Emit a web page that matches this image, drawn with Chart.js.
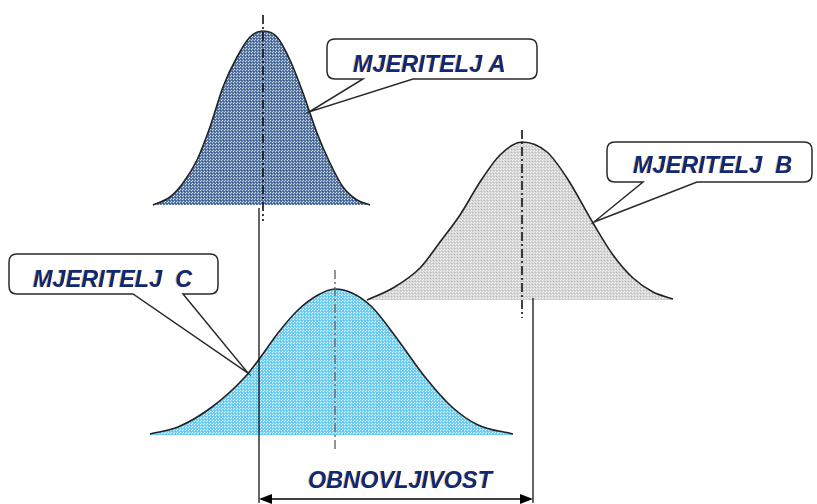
<html>
<head>
<meta charset="utf-8">
<title>Obnovljivost</title>
<script src="https://cdn.jsdelivr.net/npm/chart.js"></script>
<style>
  body { margin: 0; background: #fff; }
  #wrap { width: 817px; height: 504px; }
</style>
</head>
<body>
<div id="wrap"><canvas id="graph"></canvas></div>
<script>
// curve outlines (x, y in diagram units, y grows downwards)
const curveAX = [153, 170, 183, 197, 210, 223, 237, 250, 263, 277, 290, 303, 317, 330, 343, 357, 370]
const curveAY = [205, 197, 183, 160, 127, 87, 57, 37, 31, 37, 60, 93, 133, 163, 187, 200, 205]
const curveBX = [367, 393, 420, 440, 460, 480, 500, 522, 547, 567, 593, 613, 633, 653, 673]
const curveBY = [300, 288, 268, 242, 215, 182, 155, 142, 152, 178, 223, 255, 278, 292, 299]
const curveCX = [150, 178, 212, 245, 260, 278, 298, 318, 335, 352, 372, 398, 425, 452, 478, 513]
const curveCY = [434, 427, 407, 377, 358, 333, 310, 295, 289, 293, 307, 340, 377, 407, 425, 434]
const baseA = 205, baseB = 300, baseC = 435

const labels = ["MJERITELJ A", "MJERITELJ  B", "MJERITELJ  C"]
const spanLabel = "OBNOVLJIVOST"
const spanFrom = 259, spanTo = 533

// layout of callouts and dimension line
const callouts = [
    { box: [327, 39, 537, 79], base: [363, 413], tip: [309, 112], text: [353, 72] },
    { box: [607, 142, 812, 182], base: [643, 697], tip: [594, 222], text: [633, 173] },
    { box: [9, 254, 218, 294], base: [133, 183], tip: [248, 373], text: [33, 287] }
]
const spanY = 499
const spanText = [308, 488]

function pts(xs, ys) { return xs.map((x, i) => ({ x: x, y: ys[i] })) }
function peakX(xs, ys) { return xs[ys.indexOf(Math.min(...ys))] }

function makePattern(base, light, dark) {
    var c = document.createElement("canvas")
    c.width = 3; c.height = 3
    var g = c.getContext("2d")
    g.fillStyle = base; g.fillRect(0, 0, 3, 3)
    g.fillStyle = light; g.fillRect(0, 0, 1, 1); g.fillRect(2, 1, 1, 1)
    g.fillStyle = dark; g.fillRect(1, 2, 1, 1)
    return g.createPattern(c, "repeat")
}

const fillA = makePattern("#5879a5", "#d3dde9", "#3a5a88")
const fillB = makePattern("#d4d4d4", "#f2f2f2", "#bdbdbd")
const fillC = makePattern("#72d1f4", "#dff5fd", "#5cc4ec")

const meanA = peakX(curveAX, curveAY), meanB = peakX(curveBX, curveBY), meanC = peakX(curveCX, curveCY)

function vline(x, y1, y2, color, width, dash, order) {
    return {
        data: [{ x: x, y: y1 }, { x: x, y: y2 }],
        showLine: true, pointRadius: 0, borderColor: color, borderWidth: width,
        borderDash: dash, fill: false, order: order
    }
}

const calloutPlugin = {
    id: "callouts",
    afterDatasetsDraw(chart) {
        const ctx = chart.ctx
        const sx = chart.scales.x, sy = chart.scales.y
        const X = v => sx.getPixelForValue(v), Y = v => sy.getPixelForValue(v)
        ctx.save()
        // arrowheads of the dimension line
        ctx.fillStyle = "#000"
        ;[[spanFrom, 1], [spanTo, -1]].forEach(([x, d]) => {
            ctx.beginPath()
            ctx.moveTo(X(x), Y(spanY))
            ctx.lineTo(X(x) + d * 13, Y(spanY) - 5)
            ctx.lineTo(X(x) + d * 13, Y(spanY) + 5)
            ctx.closePath()
            ctx.fill()
        })
        // callout boxes
        callouts.forEach((c, i) => {
            const [x1, y1, x2, y2] = c.box, r = 8
            ctx.beginPath()
            ctx.moveTo(X(x1 + r), Y(y1))
            ctx.lineTo(X(x2 - r), Y(y1))
            ctx.quadraticCurveTo(X(x2), Y(y1), X(x2), Y(y1 + r))
            ctx.lineTo(X(x2), Y(y2 - r))
            ctx.quadraticCurveTo(X(x2), Y(y2), X(x2 - r), Y(y2))
            ctx.lineTo(X(c.base[1]), Y(y2))
            ctx.lineTo(X(c.tip[0]), Y(c.tip[1]))
            ctx.lineTo(X(c.base[0]), Y(y2))
            ctx.lineTo(X(x1 + r), Y(y2))
            ctx.quadraticCurveTo(X(x1), Y(y2), X(x1), Y(y2 - r))
            ctx.lineTo(X(x1), Y(y1 + r))
            ctx.quadraticCurveTo(X(x1), Y(y1), X(x1 + r), Y(y1))
            ctx.closePath()
            ctx.fillStyle = "#fff"
            ctx.fill()
            ctx.lineWidth = 1.5
            ctx.strokeStyle = "#2a2a2a"
            ctx.stroke()
            drawLabel(ctx, labels[i], X(c.text[0]), Y(c.text[1]))
        })
        drawLabel(ctx, spanLabel, X(spanText[0]), Y(spanText[1]))
        ctx.restore()
    }
}

function drawLabel(ctx, text, x, y) {
    ctx.save()
    ctx.font = "italic bold 23.5px 'Liberation Sans', Arial, sans-serif"
    ctx.textAlign = "left"
    ctx.textBaseline = "alphabetic"
    ctx.shadowColor = "rgba(235,150,70,0.7)"
    ctx.shadowOffsetX = -1
    ctx.shadowOffsetY = 0
    ctx.fillStyle = "#0c2a78"
    ctx.fillText(text, x, y)
    ctx.restore()
}

const graphConfig = {
    type: "scatter",
    data: {
        datasets: [
            {
                label: "Mjeritelj B", data: pts(curveBX, curveBY), showLine: true, pointRadius: 0,
                borderColor: "#222", borderWidth: 1.6, cubicInterpolationMode: "monotone",
                backgroundColor: fillB, fill: { value: baseB }, order: 10
            },
            {
                label: "Mjeritelj C", data: pts(curveCX, curveCY), showLine: true, pointRadius: 0,
                borderColor: "#222", borderWidth: 1.6, cubicInterpolationMode: "monotone",
                backgroundColor: fillC, fill: { value: baseC }, order: 9
            },
            {
                label: "Mjeritelj A", data: pts(curveAX, curveAY), showLine: true, pointRadius: 0,
                borderColor: "#222", borderWidth: 1.6, cubicInterpolationMode: "monotone",
                backgroundColor: fillA, fill: { value: baseA }, order: 8
            },
            vline(meanA, 15, 221, "#111", 1.6, [9, 3, 2, 3], 3),
            vline(meanB, 130, 318, "#111", 1.6, [9, 3, 2, 3], 3),
            vline(meanC, 270, 450, "#666", 1.4, [9, 3, 2, 3], 3),
            vline(spanFrom, 208, 503, "#000", 1.2, [], 2),
            vline(spanTo, 298, 503, "#000", 1.2, [], 2),
            {
                data: [{ x: spanFrom + 6, y: spanY }, { x: spanTo - 6, y: spanY }],
                showLine: true, pointRadius: 0, borderColor: "#000", borderWidth: 1.6,
                fill: false, order: 1
            }
        ]
    },
    options: {
        responsive: true,
        maintainAspectRatio: false,
        animation: false,
        layout: { padding: 0 },
        scales: {
            x: { type: "linear", min: 0, max: 817, display: false },
            y: { type: "linear", min: 0, max: 504, reverse: true, display: false }
        },
        plugins: {
            legend: { display: false },
            tooltip: { enabled: false }
        }
    },
    plugins: [calloutPlugin]
}

new Chart(document.getElementById("graph"), graphConfig)
</script>
</body>
</html>
